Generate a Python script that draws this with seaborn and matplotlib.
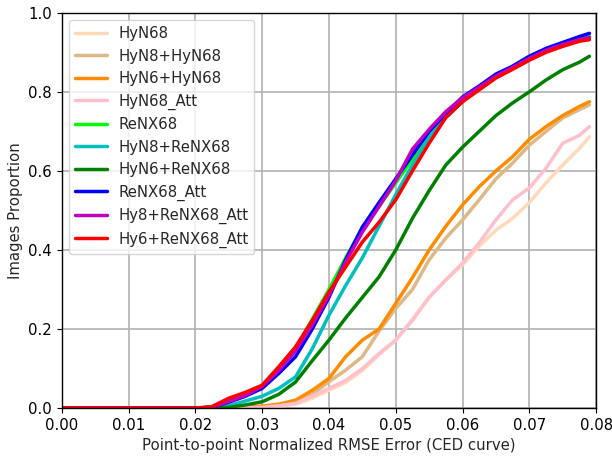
import matplotlib
matplotlib.use("Agg")
import matplotlib.pyplot as plt
import pandas as pd
import seaborn as sns

# error thresholds (x axis)
errors = [0.0, 0.02, 0.0225, 0.025, 0.0275, 0.03, 0.0325, 0.035, 0.0375, 0.04,
          0.0425, 0.045, 0.0475, 0.05, 0.0525, 0.055, 0.0575, 0.06, 0.0625, 0.065,
          0.0675, 0.07, 0.0725, 0.075, 0.0775, 0.079]

hyn68 = [0, 0, 0, 0, 0, 0.001, 0.004, 0.01, 0.025, 0.045, 0.065, 0.095, 0.135, 0.172,
         0.225, 0.28, 0.325, 0.362, 0.41, 0.45, 0.48, 0.52, 0.57, 0.615, 0.657, 0.686]
hyn8_hyn68 = [0, 0, 0, 0, 0.001, 0.003, 0.007, 0.015, 0.035, 0.067, 0.096, 0.13, 0.195, 0.252,
              0.30, 0.375, 0.43, 0.476, 0.527, 0.58, 0.62, 0.665, 0.70, 0.734, 0.755, 0.767]
hyn6_hyn68 = [0, 0, 0, 0, 0.002, 0.005, 0.01, 0.02, 0.045, 0.075, 0.13, 0.172, 0.20, 0.265,
              0.33, 0.40, 0.46, 0.514, 0.56, 0.60, 0.636, 0.68, 0.712, 0.74, 0.763, 0.775]
hyn68_att = [0, 0, 0, 0, 0, 0.002, 0.006, 0.012, 0.03, 0.05, 0.07, 0.10, 0.138, 0.172,
             0.222, 0.28, 0.324, 0.367, 0.418, 0.476, 0.527, 0.557, 0.607, 0.67, 0.69, 0.712]
renx68 = [0, 0, 0.003, 0.02, 0.035, 0.055, 0.10, 0.15, 0.225, 0.30, 0.38, 0.455, 0.51, 0.57,
          0.63, 0.695, 0.745, 0.785, 0.81, 0.84, 0.865, 0.89, 0.908, 0.922, 0.935, 0.94]
hyn8_renx68 = [0, 0, 0, 0.006, 0.018, 0.03, 0.05, 0.079, 0.15, 0.235, 0.31, 0.38, 0.46, 0.54,
               0.615, 0.685, 0.735, 0.775, 0.81, 0.84, 0.862, 0.885, 0.905, 0.92, 0.932, 0.936]
hyn6_renx68 = [0, 0, 0, 0.002, 0.008, 0.016, 0.035, 0.066, 0.12, 0.172, 0.228, 0.28, 0.332, 0.40,
               0.48, 0.55, 0.615, 0.66, 0.70, 0.74, 0.772, 0.80, 0.83, 0.856, 0.875, 0.89]
renx68_att = [0, 0, 0.002, 0.015, 0.03, 0.05, 0.088, 0.13, 0.20, 0.28, 0.375, 0.458, 0.52, 0.58,
              0.64, 0.70, 0.745, 0.787, 0.815, 0.845, 0.865, 0.89, 0.91, 0.925, 0.94, 0.948]
hy8_renx68_att = [0, 0, 0.002, 0.017, 0.032, 0.055, 0.095, 0.145, 0.21, 0.285, 0.37, 0.445, 0.51, 0.575,
                  0.655, 0.705, 0.75, 0.785, 0.812, 0.84, 0.862, 0.885, 0.905, 0.92, 0.932, 0.938]
hy6_renx68_att = [0, 0, 0.004, 0.025, 0.04, 0.058, 0.105, 0.155, 0.222, 0.294, 0.357, 0.42, 0.47, 0.527,
                  0.60, 0.67, 0.735, 0.775, 0.805, 0.835, 0.857, 0.88, 0.90, 0.915, 0.928, 0.932]

names = ['HyN68', 'HyN8+HyN68', 'HyN6+HyN68', 'HyN68_Att', 'ReNX68',
         'HyN8+ReNX68', 'HyN6+ReNX68', 'ReNX68_Att', 'Hy8+ReNX68_Att', 'Hy6+ReNX68_Att']
series = [hyn68, hyn8_hyn68, hyn6_hyn68, hyn68_att, renx68,
          hyn8_renx68, hyn6_renx68, renx68_att, hy8_renx68_att, hy6_renx68_att]
colors = ['peachpuff', 'burlywood', 'darkorange', 'pink', 'lime',
          'c', 'green', 'blue', 'm', 'red']

rows = []
for name, vals in zip(names, series):
    for e, v in zip(errors, vals):
        rows.append({'error': e, 'proportion': v, 'model': name})
df = pd.DataFrame(rows)

sns.set_style("ticks")
plt.rcParams['font.family'] = ['DejaVu Sans']

fig = plt.figure(figsize=(6.12, 4.57), dpi=100)
ax = fig.add_axes([0.101, 0.107, 0.873, 0.865])

sns.lineplot(data=df, x='error', y='proportion', hue='model', hue_order=names,
             palette=dict(zip(names, colors)), linewidth=2.5, ax=ax)

ax.set_xlim(0, 0.08)
ax.set_ylim(0, 1.0)
ax.set_xticks([0.0, 0.01, 0.02, 0.03, 0.04, 0.05, 0.06, 0.07, 0.08])
ax.set_yticks([0.0, 0.2, 0.4, 0.6, 0.8, 1.0])
ax.set_xticklabels(['0.00', '0.01', '0.02', '0.03', '0.04', '0.05', '0.06', '0.07', '0.08'])
ax.set_yticklabels(['0.0', '0.2', '0.4', '0.6', '0.8', '1.0'])
ax.tick_params(labelsize=10.7, colors='black')
ax.grid(True, color='#b0b0b0', linewidth=1.2)
for s in ax.spines.values():
    s.set_color('black')
    s.set_linewidth(1.0)

ax.set_xlabel('Point-to-point Normalized RMSE Error (CED curve)', fontsize=10.7)
ax.set_ylabel('Images Proportion', fontsize=10.7)

leg = ax.legend(loc='upper left', fontsize=10.7, frameon=True, handlelength=2.15,
                handletextpad=0.75)
for line in leg.get_lines():
    line.set_linewidth(2.5)

fig.savefig('out.png', dpi=100)
